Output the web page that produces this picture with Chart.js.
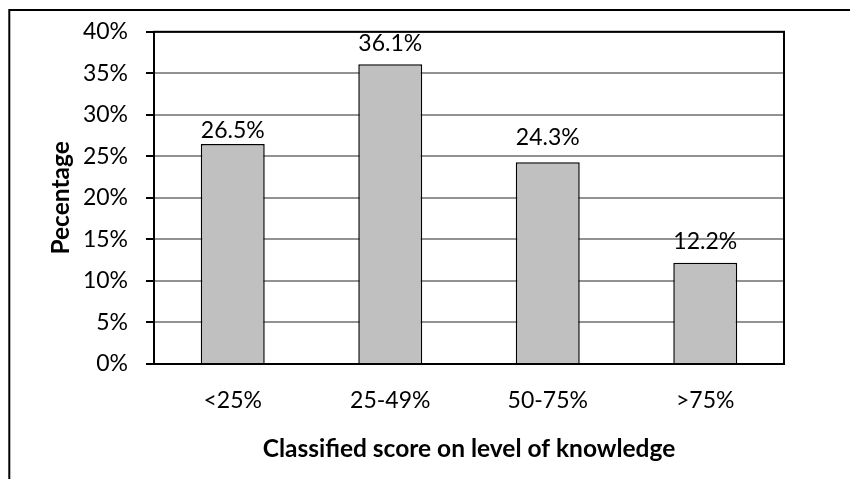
<!DOCTYPE html>
<html>
<head>
<meta charset="utf-8">
<script src="https://cdn.jsdelivr.net/npm/chart.js@4/dist/chart.umd.min.js"></script>
<style>
  html, body { margin: 0; padding: 0; background: #fff; }
  #wrap { width: 850px; height: 479px; }
</style>
</head>
<body>
<div id="wrap"><canvas id="c" width="850" height="479"></canvas></div>
<script>
// Knowledge score classes and share of respondents (%)
const categories = ['<25%', '25-49%', '50-75%', '>75%'];
const percentages = [26.5, 36.1, 24.3, 12.2];
const yTicks = [0, 5, 10, 15, 20, 25, 30, 35, 40];

const FONT = 'Lato, "Open Sans", sans-serif';

// Frame around the whole figure and a box around the plot area
const framePlugin = {
  id: 'frame',
  beforeDraw(chart) {
    const ctx = chart.ctx;
    ctx.save();
    ctx.fillStyle = '#fff';
    ctx.fillRect(0, 0, chart.width, chart.height);
    ctx.strokeStyle = '#000';
    ctx.lineWidth = 2;
    ctx.strokeRect(9.3, 10, chart.width + 50, chart.height + 50);
    ctx.restore();
  },
  afterDraw(chart) {
    const a = chart.chartArea;
    const ctx = chart.ctx;
    ctx.save();
    ctx.strokeStyle = '#000';
    ctx.lineWidth = 2;
    ctx.strokeRect(a.left, a.top, a.right - a.left, a.bottom - a.top);
    ctx.restore();
  }
};

// Value labels above each bar
const valueLabels = {
  id: 'valueLabels',
  afterDatasetsDraw(chart, args, opts) {
    const ctx = chart.ctx;
    const meta = chart.getDatasetMeta(0);
    ctx.save();
    ctx.font = opts.font;
    ctx.fillStyle = '#000';
    ctx.textAlign = 'center';
    ctx.textBaseline = 'alphabetic';
    meta.data.forEach((bar, i) => {
      const v = chart.data.datasets[0].data[i];
      ctx.fillText(v.toFixed(1) + '%', bar.x, bar.y - opts.lift[i]);
    });
    ctx.restore();
  }
};

new Chart(document.getElementById('c'), {
  type: 'bar',
  data: {
    labels: categories,
    datasets: [{
      data: percentages,
      backgroundColor: '#c0c0c0',
      borderColor: '#000',
      borderWidth: 1.5,
      barPercentage: 0.406,
      categoryPercentage: 1.0
    }]
  },
  options: {
    responsive: false,
    animation: false,
    devicePixelRatio: 1,
    layout: { padding: { left: 0, top: 29, right: 66, bottom: 0 } },
    plugins: {
      legend: { display: false },
      tooltip: { enabled: false },
      valueLabels: { font: '23px ' + FONT, lift: [6, 13, 17, 14] }
    },
    scales: {
      x: {
        grid: { display: false, drawTicks: false },
        border: { display: true, color: '#000', width: 2 },
        ticks: { color: '#000', font: { family: FONT, size: 23 }, padding: 23 },
        title: {
          display: true,
          text: 'Classified score on level of knowledge',
          color: '#000',
          font: { family: FONT, size: 24.5, weight: 'bold' },
          padding: { top: 0, bottom: 15 }
        },
        afterFit(scale) { scale.height = 115; }
      },
      y: {
        min: 0,
        max: 40,
        afterBuildTicks(scale) { scale.ticks = yTicks.map(v => ({ value: v })); },
        grid: { color: '#929292', lineWidth: 2, tickColor: '#000', tickLength: 8, drawTicks: true },
        border: { display: true, color: '#000', width: 2 },
        ticks: {
          color: '#000',
          font: { family: FONT, size: 23 },
          padding: 18,
          callback: v => v + '%'
        },
        title: {
          display: true,
          text: 'Pecentage',
          color: '#000',
          font: { family: FONT, size: 24.5, weight: 'bold' },
          padding: { top: 46, bottom: 0 }
        },
        afterFit(scale) { scale.width = 154; }
      }
    }
  },
  plugins: [framePlugin, valueLabels]
});
</script>
</body>
</html>
